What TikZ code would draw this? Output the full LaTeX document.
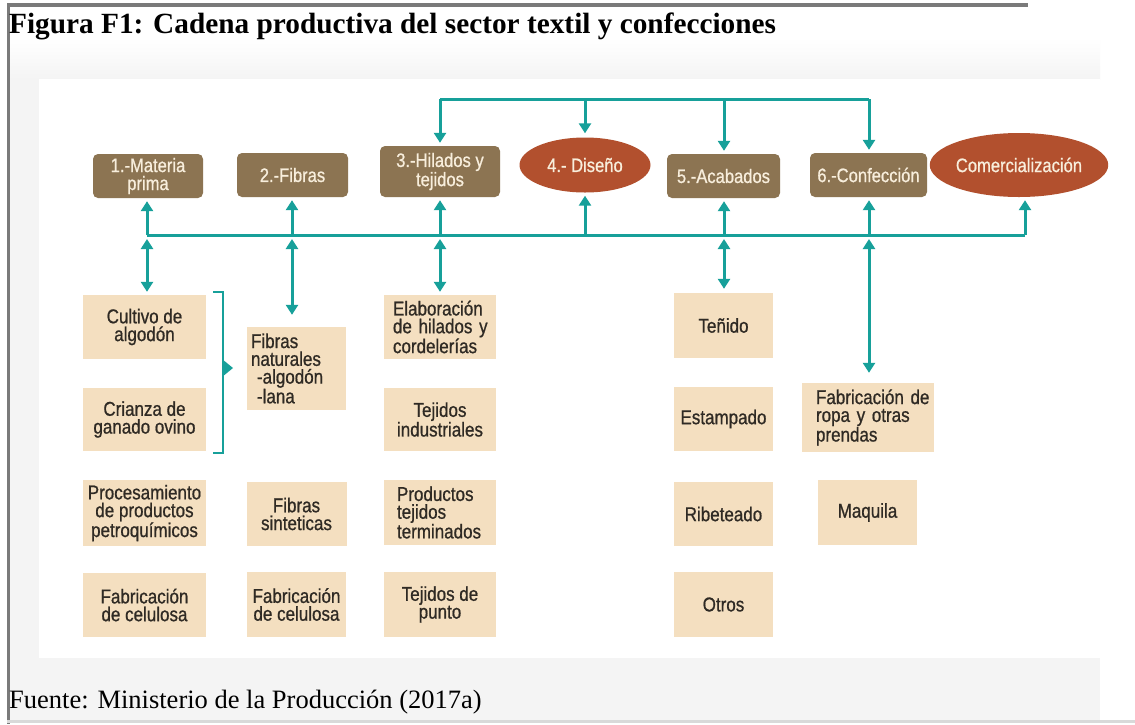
\documentclass[tikz,border=0pt]{standalone}
\usepackage{fontspec}
\setmainfont{Liberation Serif}
\newfontfamily\cond[FakeStretch=0.85,FakeBold=0.8]{Liberation Sans}
\usetikzlibrary{arrows.meta,shapes.geometric}
\definecolor{hdrc}{HTML}{8C7452}
\definecolor{ellc}{HTML}{B2502E}
\definecolor{boxc}{HTML}{F4DFC0}
\definecolor{teal2}{HTML}{17A09A}
\definecolor{hdrtxt}{HTML}{F8EEDC}
\definecolor{boxtxt}{HTML}{2F2A24}
\definecolor{panel}{HTML}{F4F4F4}
\definecolor{frame}{HTML}{7A7A7A}
\tikzset{
  hdr/.style={fill=hdrc, rounded corners=5pt, text=hdrtxt, font=\cond\fontsize{19.5}{18}\selectfont, align=center, inner sep=0pt},
  ell/.style={ellipse, fill=ellc, text=hdrtxt, font=\cond\fontsize{19.5}{18}\selectfont, inner sep=0pt},
  lbox/.style={fill=boxc, text=boxtxt, font=\cond\fontsize{20}{17.8}\selectfont, align=center, inner sep=0pt},
  tl/.style={draw=teal2, line width=3pt},
  arr/.style={tl, -{Triangle[width=12pt,length=10pt]}},
  darr/.style={tl, {Triangle[width=12pt,length=10pt]}-{Triangle[width=12pt,length=10pt]}},
}
\begin{document}
\begin{tikzpicture}[x=1pt,y=-1pt]
\useasboundingbox (0,0) rectangle (1135,724);
% background
\fill[white] (0,0) rectangle (1135,724);
\fill[panel] (10,40) rectangle (1100,720);
\shade[top color=white, bottom color=panel] (10,38) rectangle (1100,79);
\fill[white] (10,7) rectangle (1028,38);
\fill[white] (39,79) rectangle (1100,658);
\fill[frame] (7,3) rectangle (1028,7);
\fill[frame] (7,3) rectangle (10,724);
\fill[gray!30] (7,720) rectangle (1135,723);
% title and source
\node[anchor=base west, font=\bfseries\fontsize{29.3}{32}\selectfont, inner sep=0pt] (title) at (9,33) {Figura F1: Cadena productiva del sector textil y confecciones};
\node[anchor=base west, font=\fontsize{26.5}{28}\selectfont, inner sep=0pt] (src) at (9,708) {Fuente: Ministerio de la Producción (2017a)};
% header row
\node[hdr, minimum width=110pt, minimum height=44pt] (m1) at (148,176) {1.-Materia\\prima};
\node[hdr, minimum width=111pt, minimum height=44pt] (m2) at (292.5,175) {2.-Fibras};
\node[hdr, minimum width=120pt, minimum height=51pt] (m3) at (440,171.5) {3.-Hilados y\\tejidos};
\node[ell, minimum width=131pt, minimum height=55pt] (dis) at (585,165) {4.- Diseño};
\node[hdr, minimum width=113pt, minimum height=44pt] (m5) at (723.5,176) {5.-Acabados};
\node[hdr, minimum width=117pt, minimum height=44pt] (m6) at (868.5,175) {6.-Confección};
\node[ell, minimum width=156pt, minimum height=64pt] (com) at (1019,165) {Comercialización};
% column 1
\node[lbox, minimum width=123pt, minimum height=64pt] (c1a) at (144.5,327) {Cultivo de\\algodón};
\node[lbox, minimum width=123pt, minimum height=63pt] (c1b) at (144.5,419.5) {Crianza de\\ganado ovino};
\node[lbox, minimum width=123pt, minimum height=66pt] (c1c) at (144.5,513) {Procesamiento\\de productos\\petroquímicos};
\node[lbox, minimum width=123pt, minimum height=64pt] (c1d) at (144.5,605) {Fabricación\\de celulosa};
% column 2
\node[lbox, minimum width=99pt, minimum height=83pt, text width=91pt, align=left] (c2a) at (296.5,368.5) {Fibras\\naturales\\\hspace*{6pt}\mbox{-algodón}\\\hspace*{6pt}-lana};
\node[lbox, minimum width=100pt, minimum height=64pt] (c2b) at (296.5,514) {Fibras\\sinteticas};
\node[lbox, minimum width=99pt, minimum height=65pt] (c2c) at (296.5,604.5) {Fabricación\\de celulosa};
% column 3
\node[lbox, minimum width=112pt, minimum height=64pt, text width=94pt, align=left] (c3a) at (440,327) {\mbox{Elaboración}\\\mbox{de hilados y}\\\mbox{cordelerías}};
\node[lbox, minimum width=112pt, minimum height=63pt] (c3b) at (440,419.5) {Tejidos\\industriales};
\node[lbox, minimum width=112pt, minimum height=65pt, text width=86pt, align=left] (c3c) at (440,512.5) {Productos\\tejidos\\\mbox{terminados}};
\node[lbox, minimum width=112pt, minimum height=65pt] (c3d) at (440,604.5) {Tejidos de\\punto};
% column 5
\node[lbox, minimum width=99pt, minimum height=65pt] (c5a) at (723.5,325.5) {Teñido};
\node[lbox, minimum width=99pt, minimum height=64pt] (c5b) at (723.5,419) {Estampado};
\node[lbox, minimum width=99pt, minimum height=64pt] (c5c) at (723.5,514) {Ribeteado};
\node[lbox, minimum width=99pt, minimum height=65pt] (c5d) at (723.5,604.5) {Otros};
% column 6
\node[lbox, minimum width=132pt, minimum height=69pt, text width=104pt, align=left] (c6a) at (868,417.5) {\mbox{Fabricación de}\\\mbox{ropa y otras}\\prendas};
\node[lbox, minimum width=99pt, minimum height=65pt] (c6b) at (867.5,512.5) {Maquila};
% top distribution line
\coordinate (t3) at (440,99);
\coordinate (t4) at (585,99);
\coordinate (t5) at (724,99);
\coordinate (t6) at (869,99);
\draw[tl] (t3) -- (t6);
\draw[arr, shorten >=3pt] (t3) -- (m3.north);
\draw[arr, shorten >=4pt] (t4) -- (dis.north);
\draw[arr, shorten >=3pt] (t5) -- (t5 |- m5.north);
\draw[arr, shorten >=3pt] (t6) -- (t6 |- m6.north);
% bus line
\coordinate (b1) at (147,235);
\coordinate (b2) at (292,235);
\coordinate (b3) at (440,235);
\coordinate (b4) at (585,235);
\coordinate (b5) at (724,235);
\coordinate (b6) at (869,235);
\coordinate (b7) at (1025,235);
\draw[tl] (b1) -- (b7);
\draw[arr, shorten >=3pt] (b1) -- (b1 |- m1.south);
\draw[arr, shorten >=3pt] (b2) -- (b2 |- m2.south);
\draw[arr, shorten >=3pt] (b3) -- (b3 |- m3.south);
\draw[arr, shorten >=3pt] (b4) -- (dis.south);
\draw[arr, shorten >=3pt] (b5) -- (b5 |- m5.south);
\draw[arr, shorten >=3pt] (b6) -- (b6 |- m6.south);
\draw[arr, shorten >=3pt] (b7) -- (b7 |- com.south);
% lower double arrows
\draw[darr, shorten <=4pt, shorten >=3pt] (b1) -- (b1 |- c1a.north);
\draw[darr, shorten <=4pt, shorten >=12pt] (b2) -- (b2 |- c2a.north);
\draw[darr, shorten <=4pt, shorten >=3pt] (b3) -- (b3 |- c3a.north);
\draw[darr, shorten <=4pt, shorten >=4pt] (b5) -- (b5 |- c5a.north);
\draw[darr, shorten <=4pt, shorten >=10pt] (b6) -- (b6 |- c6a.north);
% bracket
\coordinate (k1) at (213,292);
\coordinate (k2) at (223,292);
\coordinate (k3) at (223,453);
\coordinate (k4) at (213,453);
\draw[tl, line width=2.5pt] (k1) -- (k2) -- (k3) -- (k4);
\fill[teal2] (222,359) -- (233,368) -- (222,377) -- cycle;
\end{tikzpicture}
\end{document}
